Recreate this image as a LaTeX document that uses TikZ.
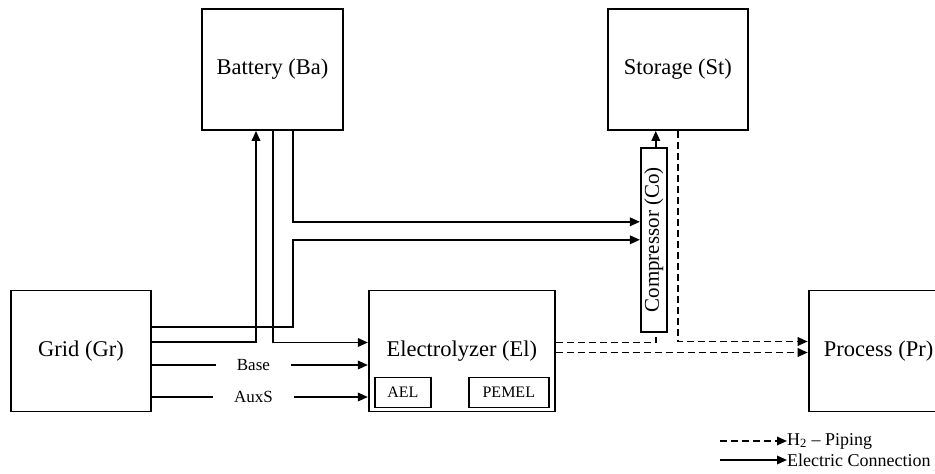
\documentclass[tikz,border=0pt]{standalone}
\usepackage{fontspec}
\setmainfont{Liberation Serif}
\usetikzlibrary{
    arrows.meta,
    positioning
}

\begin{document}
\begin{tikzpicture}[
    x=1pt, y=-1pt,
    >={Triangle[length=10pt, width=8.5pt]},
    node distance=16pt and 216pt,
    block/.style={draw=black, line width=1.8pt, minimum width=140pt, minimum height=121pt, font=\fontsize{22.5}{26}\selectfont},
    subbox/.style={draw=black, line width=1.8pt, minimum height=30pt, inner sep=2pt, font=\fontsize{16}{19}\selectfont},
    elec/.style={draw=black, line width=1.8pt, ->},
    pipe/.style={draw=black, line width=1.8pt, dash pattern=on 7pt off 4pt},
    lbl/.style={fill=white, inner xsep=21pt, inner ysep=1pt, font=\fontsize{17}{20}\selectfont},
    legend/.style={anchor=west, inner sep=0pt, font=\fontsize{18}{21}\selectfont}
]
\useasboundingbox (0,0) rectangle (935,474);

% ==================== GRID & ELECTROLYZER ====================
\node[block] (grid) at (81,351) {Grid (Gr)};
\node[block, minimum width=186pt, right=216pt of grid] (ely) {Electrolyzer (El)};
\node[subbox, minimum width=56pt, above right=4pt and 6pt of ely.south west] (ael) {AEL};
\node[subbox, minimum width=80pt, above left=4pt and 6pt of ely.south east] (pemel) {PEMEL};

% ==================== PROCESS ====================
\node[block, right=252pt of ely] (proc) {Process (Pr)};

% ==================== BATTERY & STORAGE ====================
\node[block, minimum width=141pt] (bat) at (272.5,69.5) {Battery (Ba)};
\node[block, right=263pt of bat] (st) {Storage (St)};

% ==================== COMPRESSOR ====================
\node[block, minimum width=26pt, minimum height=184pt, inner sep=0pt, font=\fontsize{21}{24}\selectfont, below=16pt of st, xshift=-24pt] (co) {\rotatebox{90}{Compressor (Co)}};

% ==================== ELECTRIC CONNECTIONS ====================
\coordinate (bus) at ([xshift=20.5pt]bat.south);
\draw[elec] ([yshift=9pt]grid.east) -| ([xshift=-16.5pt]bat.south);
\draw[elec] ([xshift=0.5pt]bat.south) |- ([yshift=8.5pt]ely.west);
\draw[elec] (bus) |- ([yshift=18pt]co.west);
\draw[elec] ([yshift=24pt]grid.east) -| (bus |- co.west) -- (co.west);
\draw[elec] ([yshift=-14pt]grid.east) coordinate (b0) -- node[lbl, pos=0.47] {Base} (b0 -| ely.west);
\draw[elec] ([yshift=-46pt]grid.east) coordinate (a0) -- node[lbl, pos=0.47] {AuxS} (a0 -| ely.west);

% ==================== H2 PIPING ====================
\draw[pipe] ([yshift=8.5pt]ely.east) -| ([xshift=2pt]co.south);
\draw[elec] ([xshift=2pt]co.north) -- ([xshift=-22pt]st.south);
\draw[pipe, ->] (st.south) |- ([yshift=9.5pt]proc.west);
\draw[pipe, ->] ([yshift=-1.5pt]ely.east) -- ([yshift=-1.5pt]proc.west);

% ==================== LEGEND ====================
\node[legend] (lgpipe) at (787,441) {H\textsubscript{2} – Piping};
\node[legend] (lgelec) at (787,460) {Electric Connection};
\coordinate (lp) at (720,441);
\coordinate (le) at (720,460);
\draw[pipe, ->] (lp) -- (lgpipe.west);
\draw[elec] (le) -- (lgelec.west);

\end{tikzpicture}
\end{document}
